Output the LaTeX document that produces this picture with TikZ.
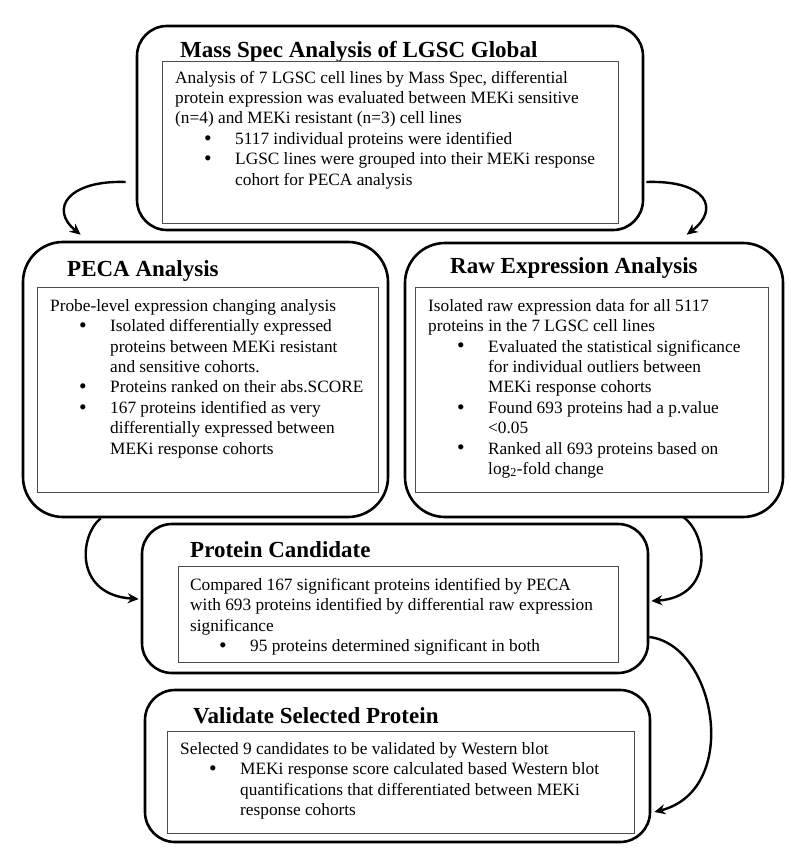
\documentclass[tikz,border=0pt]{standalone}
\usepackage{fontspec}
\setmainfont{Liberation Serif}
\usetikzlibrary{arrows.meta,calc}
\newcommand\bulitem{\hspace*{29pt}\makebox[31pt][l]{\smash{\raisebox{-0.8pt}{\scalebox{1.25}{\textbullet}}}}}
\newcommand\contind{\hspace*{60pt}}
\newcommand\firstln{\rule{0pt}{13pt}}
\tikzset{
  outerbox/.style 2 args={draw=black, line width=2.6pt, rounded corners=30pt,
    minimum width=#1, minimum height=#2, inner sep=0pt, fill=white},
  innerbox/.style 2 args={draw=black!70, line width=0.9pt, fill=white,
    minimum width=#1, minimum height=#2, inner sep=0pt},
  titletext/.style={anchor=base west, inner sep=0pt,
    font=\fontsize{23}{27}\selectfont\bfseries},
  bodytext/.style={anchor=north west, inner sep=0pt, align=left,
    font=\fontsize{17.3}{20.4}\selectfont},
  flowarrow/.style={line width=2.4pt, -{Stealth[length=11pt,width=10pt]}}
}
\begin{document}
\begin{tikzpicture}[x=1pt,y=-1pt]
\useasboundingbox (0,0) rectangle (790,861);

% outer boxes
\node[outerbox={506pt}{204pt}] (ms) at (390,128) {};
\node[outerbox={365pt}{275pt}, rounded corners=40pt] (peca) at (205.5,379.5) {};
\node[outerbox={378pt}{274pt}, rounded corners=40pt] (raw) at (594,380) {};
\node[outerbox={506pt}{149pt}] (prot) at (395,598.5) {};
\node[outerbox={505pt}{152pt}] (val) at (397.5,766) {};

% titles
\node[titletext] (ms-title) at (180,58) {Mass Spec Analysis of LGSC Global};
\node[titletext] (peca-title) at (67,276) {PECA Analysis};
\node[titletext] (raw-title) at (450,273) {Raw Expression Analysis};
\node[titletext] (prot-title) at (190,557) {Protein Candidate};
\node[titletext] (val-title) at (193,723) {Validate Selected Protein};

% inner boxes
\node[innerbox={456pt}{162pt}] (ms-in) at (390,142) {};
\node[innerbox={341pt}{205pt}] (peca-in) at (207.5,389.5) {};
\node[innerbox={353pt}{205pt}] (raw-in) at (591.5,389.5) {};
\node[innerbox={440pt}{96pt}] (prot-in) at (398,614) {};
\node[innerbox={467pt}{102pt}] (val-in) at (400.5,782) {};

% body texts
\node[bodytext] (ms-text) at (175,70) {\firstln Analysis of 7 LGSC cell lines by Mass Spec, differential\\
protein expression was evaluated between MEKi sensitive\\
(n=4) and MEKi resistant (n=3) cell lines\\
\bulitem 5117 individual proteins were identified\\
\bulitem LGSC lines were grouped into their MEKi response\\
\contind cohort for PECA analysis};

\node[bodytext] (peca-text) at (50,298) {\firstln Probe-level expression changing analysis\\
\bulitem Isolated differentially expressed\\
\contind proteins between MEKi resistant\\
\contind and sensitive cohorts.\\
\bulitem Proteins ranked on their abs.SCORE\\
\bulitem 167 proteins identified as very\\
\contind differentially expressed between\\
\contind MEKi response cohorts};

\node[bodytext] (raw-text) at (428,298) {\firstln Isolated raw expression data for all 5117\\
proteins in the 7 LGSC cell lines\\
\bulitem Evaluated the statistical significance\\
\contind for individual outliers between\\
\contind MEKi response cohorts\\
\bulitem Found 693 proteins had a p.value\\
\contind <0.05\\
\bulitem Ranked all 693 proteins based on\\
\contind log\textsubscript{2}-fold change};

\node[bodytext] (prot-text) at (190,577) {\firstln Compared 167 significant proteins identified by PECA\\
with 693 proteins identified by differential raw expression\\
significance\\
\bulitem 95 proteins determined significant in both};

\node[bodytext] (val-text) at (180,741) {\firstln Selected 9 candidates to be validated by Western blot\\
\bulitem MEKi response score calculated based Western blot\\
\contind quantifications that differentiated between MEKi\\
\contind response cohorts};

% connectors
\draw[flowarrow] ($(ms.west)+(-10,54)$) .. controls +(-57,-2) and +(-32,-26) .. ($(peca.north west)+(59,-6)$);
\draw[flowarrow] ($(ms.east)+(2,54)$) .. controls +(60,-2) and +(34,-26) .. ($(raw.north west)+(283,-7)$);
\draw[flowarrow] ($(peca.south west)+(79,0)$) .. controls +(-22,18) and +(-64,-4) .. ($(prot.west)+(-2,0.5)$);
\draw[flowarrow] ($(raw.south west)+(280,-1)$) .. controls +(25,19) and +(62,-4) .. ($(prot.east)+(2,2.5)$);
\draw[flowarrow] ($(prot.east)+(0,38.5)$) .. controls +(67,8) and +(87,-22) .. ($(val.east)+(3,46)$);
\end{tikzpicture}
\end{document}
